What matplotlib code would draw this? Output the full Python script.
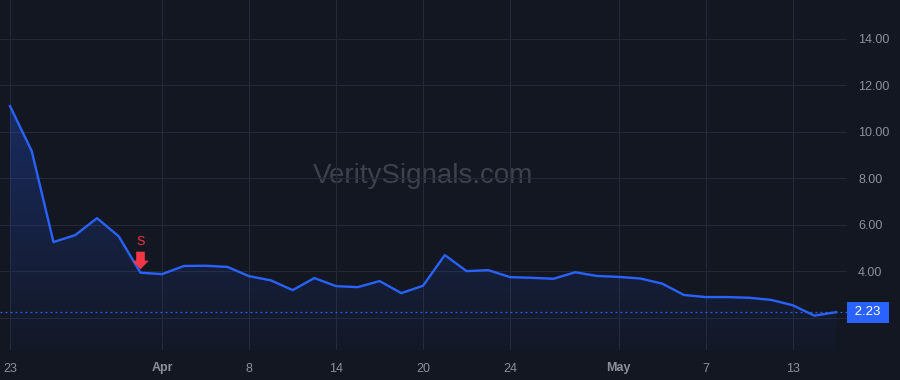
import numpy as np
import pandas as pd
import matplotlib
matplotlib.use("Agg")
import matplotlib.pyplot as plt
from matplotlib.path import Path
from matplotlib import transforms

# trading days, Mar 23 - May 15 (Good Friday closed)
dates = pd.bdate_range("2026-03-23", "2026-05-15").drop(pd.Timestamp("2026-04-03"))
prices = [11.11, 9.17, 5.25, 5.55, 6.28, 5.50, 3.93, 3.87, 4.22, 4.23, 4.18,
          3.78, 3.60, 3.18, 3.70, 3.35, 3.31, 3.57, 3.05, 3.37, 4.69, 4.00,
          4.04, 3.74, 3.71, 3.67, 3.95, 3.79, 3.75, 3.68, 3.46, 2.97, 2.88,
          2.88, 2.85, 2.76, 2.53, 2.08, 2.23]
sell_idx = 6
last_price = prices[-1]

tick_dates = ["2026-03-23", "2026-04-01", "2026-04-08", "2026-04-14", "2026-04-20",
              "2026-04-24", "2026-05-01", "2026-05-07", "2026-05-13"]
tick_labels = ["23", "Apr", "8", "14", "20", "24", "May", "7", "13"]
y_ticks = [2, 4, 6, 8, 10, 12, 14]

bg = "#131722"
grid_c = "#252935"
text_c = "#8c909b"
line_c = "#2962ff"
red = "#f23645"

plt.rcParams["font.family"] = ["Liberation Sans", "DejaVu Sans"]

fig = plt.figure(figsize=(9, 3.8), dpi=100, facecolor=bg)
ax = fig.add_axes([0, 30 / 380, 847 / 900, 350 / 380])
ax.set_facecolor(bg)

x = np.arange(len(prices))
y = np.array(prices)

ax.set_xlim(-0.46, 38.5)
ax.set_ylim(0.6, 15.68)

# gradient fill under the line
poly = ax.fill_between(x, y, 0, color="none")
grad = np.linspace(0.28, 0.02, 256).reshape(-1, 1)
rgba = np.zeros((256, 1, 4))
rgba[..., 0] = 0.16
rgba[..., 1] = 0.38
rgba[..., 2] = 1.0
rgba[..., 3] = grad
img = ax.imshow(rgba, aspect="auto", extent=[x[0], x[-1], 0.6, y.max()],
                origin="upper", zorder=1)
img.set_clip_path(poly.get_paths()[0], transform=ax.transData)

ax.plot(x, y, color=line_c, lw=1.7, zorder=3, solid_joinstyle="round")
ax.axhline(last_price, color=line_c, lw=0.9, ls=(0, (1.5, 2.5)), zorder=2)

# grid
tick_pos = [dates.get_loc(pd.Timestamp(d)) for d in tick_dates]
ax.set_xticks(tick_pos)
ax.set_xticklabels(tick_labels)
for lbl, t in zip(ax.get_xticklabels(), tick_labels):
    if t in ("Apr", "May"):
        lbl.set_fontweight("bold")
ax.set_yticks(y_ticks)
ax.set_yticklabels([f"{v:.2f}" for v in y_ticks])
ax.yaxis.tick_right()
ax.tick_params(axis="both", length=0, colors=text_c, labelsize=9)
ax.tick_params(axis="x", pad=9)
ax.tick_params(axis="y", pad=8)
ax.grid(True, color=grid_c, lw=0.8)
ax.set_axisbelow(True)
for s in ax.spines.values():
    s.set_visible(False)

# sell signal
arrow = Path([(-4.3, 8.8), (4.3, 8.8), (4.3, -0.2), (8.3, -0.2), (0, -8.8),
              (-8.3, -0.2), (-4.3, -0.2), (-4.3, 8.8)],
             [Path.MOVETO] + [Path.LINETO] * 6 + [Path.CLOSEPOLY])
off = transforms.offset_copy(ax.transData, fig=fig, y=8.8, units="points")
ax.plot([x[sell_idx]], [y[sell_idx]], marker=arrow, markersize=12.7, color=red,
        mec="none", transform=off, zorder=4)
ax.annotate("S", (x[sell_idx], y[sell_idx]), xytext=(0, 22), textcoords="offset points",
            ha="center", va="center", color=red, fontsize=9, zorder=4)

# watermark
ax.text(0.5, 0.477, "VeritySignals.com", transform=ax.transAxes, ha="center",
        va="baseline", fontsize=20, color="#3d414d", zorder=0)

# last price label
blend = transforms.blended_transform_factory(ax.transAxes, ax.transData)
ax.text(1.005, last_price, f" {last_price:.2f} ", transform=blend, ha="left",
        va="center", color="white", fontsize=9.5, clip_on=False, zorder=5,
        bbox=dict(boxstyle="square,pad=0.33", fc=line_c, ec="none"))

fig.savefig("out.png", dpi=100, facecolor=bg)
